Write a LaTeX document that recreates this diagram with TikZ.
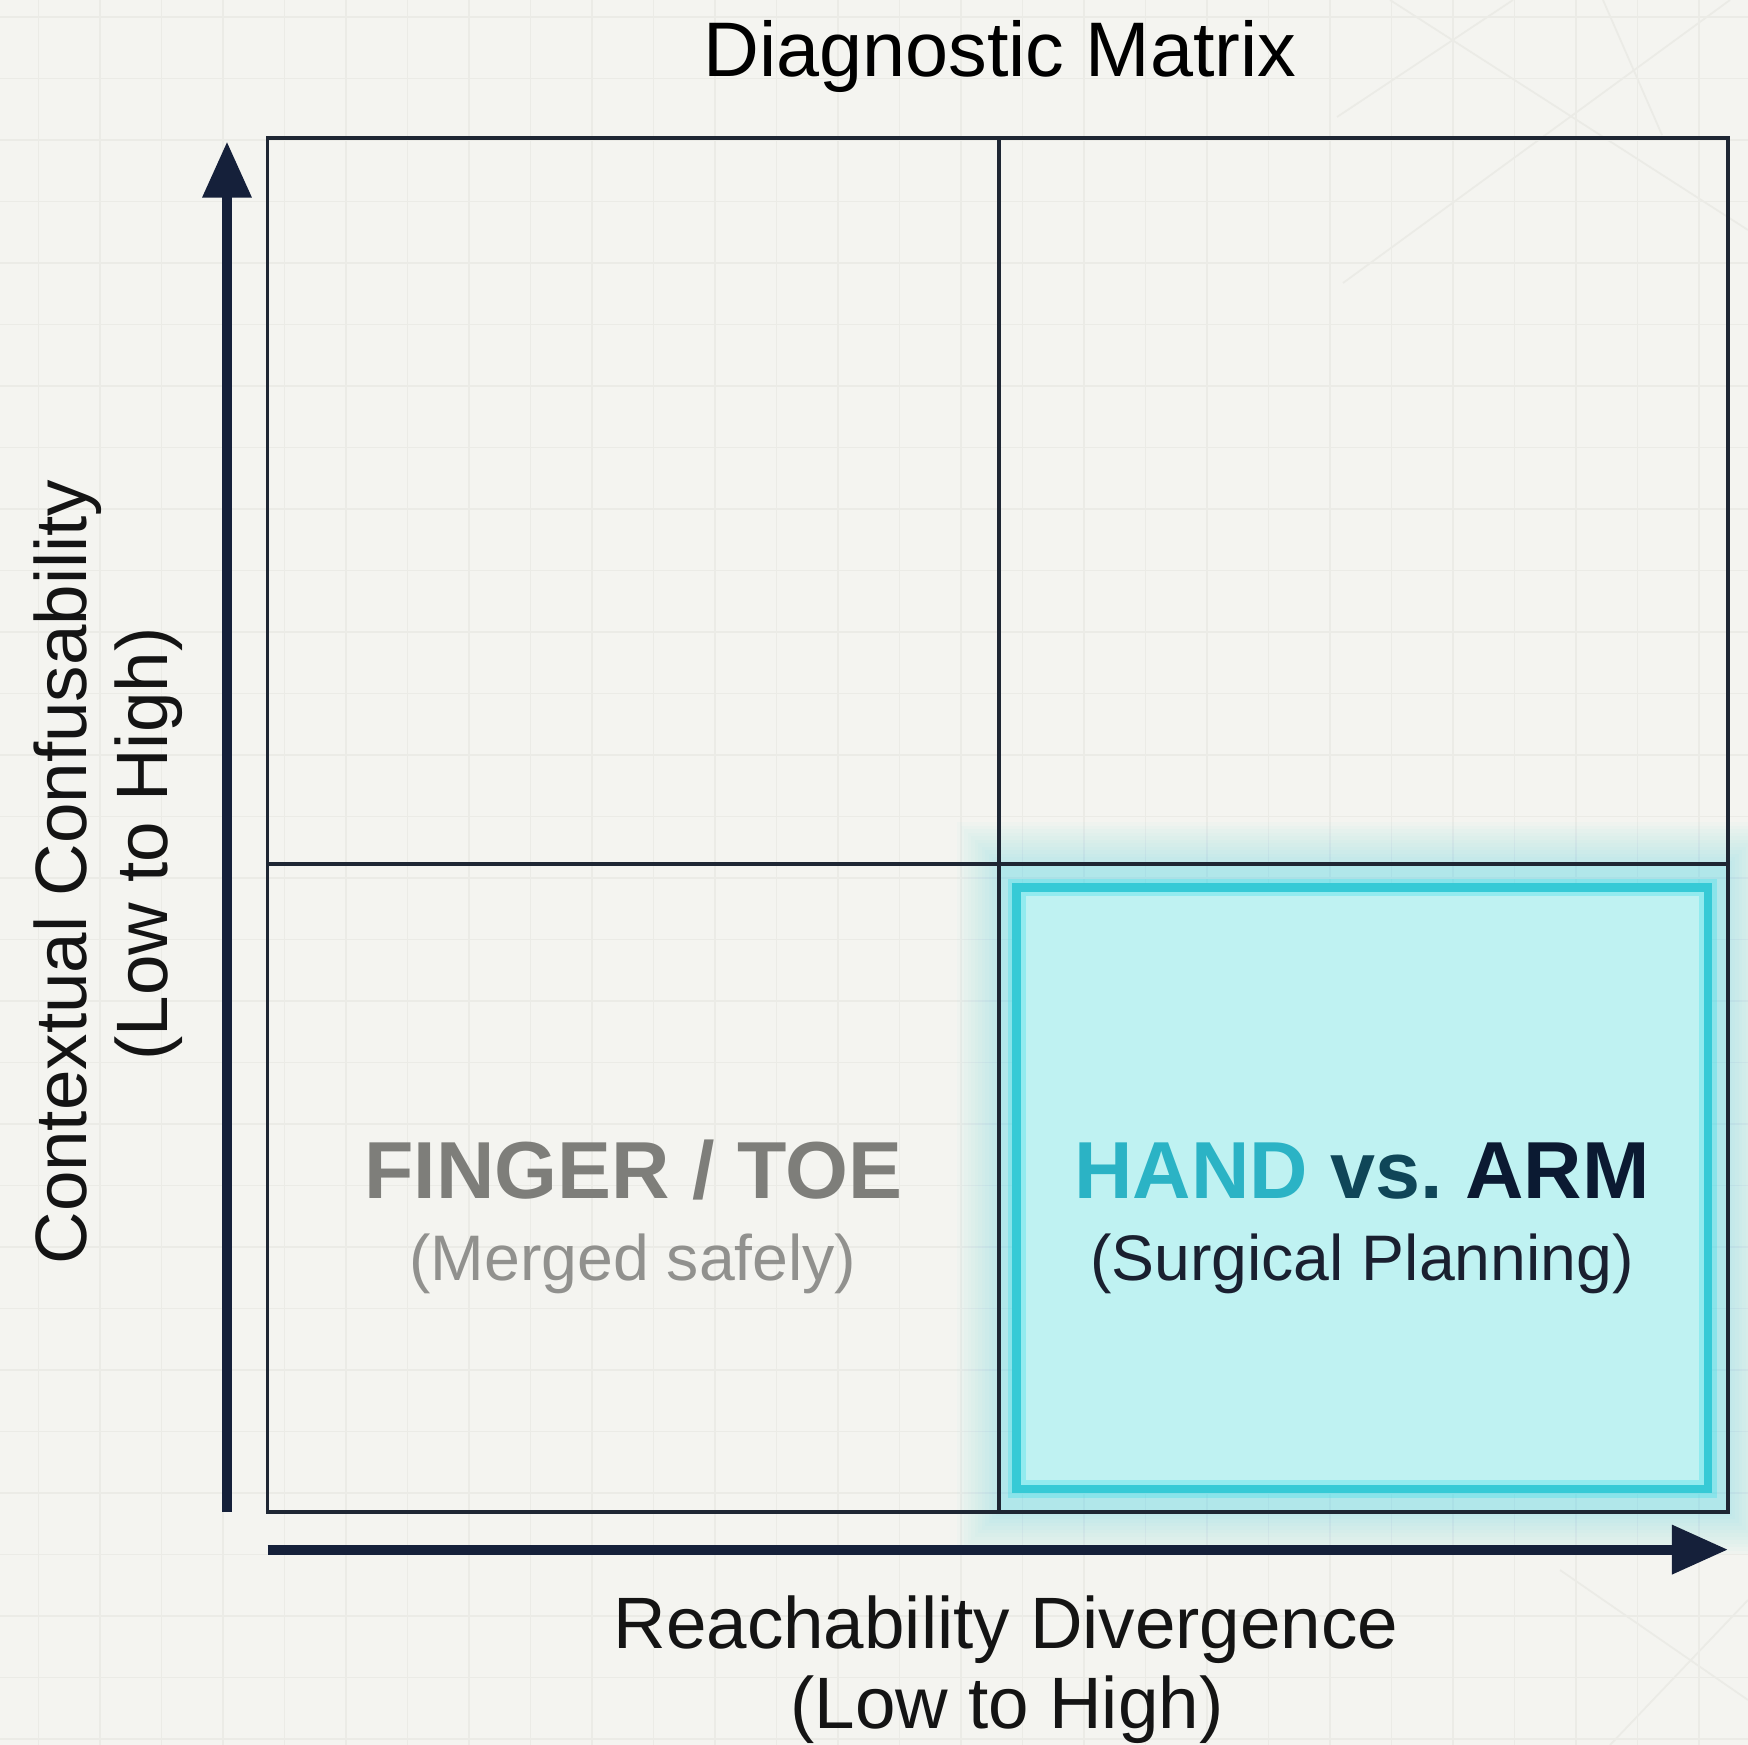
\documentclass[tikz,border=0pt]{standalone}
\usepackage{fontspec}
\setmainfont{Liberation Sans}
\usetikzlibrary{arrows.meta}
\definecolor{paper}{HTML}{F4F4F0}
\definecolor{gridline}{HTML}{EBEBE6}
\definecolor{navy}{HTML}{15203A}
\definecolor{frame}{HTML}{1E2633}
\definecolor{glow}{HTML}{3FE0EA}
\definecolor{cyanedge}{HTML}{36CAD6}
\definecolor{cellfill}{HTML}{BFF2F2}
\definecolor{handcol}{HTML}{2BB3C5}
\definecolor{vscol}{HTML}{0F4658}
\definecolor{armcol}{HTML}{0B1A32}
\definecolor{greytext}{HTML}{7E7E7A}
\definecolor{darktext}{HTML}{1A2030}

\begin{document}
\begin{tikzpicture}[x=0.01cm,y=-0.01cm,
  axislabel/.style={anchor=base, inner sep=0pt, text=black!92, font=\fontsize{20.7}{25}\selectfont},
  quadhead/.style={anchor=base, inner sep=0pt, font=\bfseries\fontsize{23}{27}\selectfont},
  quadsub/.style={anchor=base, inner sep=0pt, font=\fontsize{18.3}{22}\selectfont}]
\useasboundingbox (0,0) rectangle (1748,1745);
\fill [paper] (0,0) rectangle (1748,1745);
% faint background grid
\foreach \k in {0,...,28} {
  \draw [gridline, line width=0.45pt] (38.5+61.5*\k,0) -- (38.5+61.5*\k,1745);
  \draw [gridline, line width=0.45pt] (0,17+61.5*\k) -- (1748,17+61.5*\k);
}
\draw [gridline, line width=0.5pt] (1390,0) -- (1748,230);
\draw [gridline, line width=0.5pt] (1513,0) -- (1337,117);
\draw [gridline, line width=0.5pt] (1730,0) -- (1343,283);
\draw [gridline, line width=0.5pt] (1603,0) -- (1662,135);
\draw [gridline, line width=0.5pt] (1560,1570) -- (1748,1700);
\draw [gridline, line width=0.5pt] (1610,1745) -- (1748,1600);
% glow round the highlighted cell
\foreach \g in {1,...,12}
  \fill [glow, opacity=0.025] (999-3.5*\g,864-3.5*\g) rectangle (1728+3.5*\g,1512+3.5*\g);
\fill [glow, opacity=0.12] (999,864) rectangle (1728,1512);
\fill [cellfill] (1016.7,887.4) rectangle (1708,1489);
\draw [glow, opacity=0.35, line width=5pt] (1016.7,887.4) rectangle (1708,1489);
\draw [cyanedge, line width=2.5pt] (1016.7,887.4) rectangle (1708,1489);
% the matrix
\draw [frame, line width=1.1pt] (267.5,138) rectangle (1728,1512);
\draw [frame, line width=1.1pt] (999,138) -- (999,1512);
\draw [frame, line width=1.1pt] (267.5,864) -- (1728,864);
% axes
\draw [navy, line width=2.8pt, -{Triangle[length=0.56cm,width=0.47cm]}] (227,1512) -- (227,141.6);
\draw [navy, line width=2.8pt, -{Triangle[length=0.56cm,width=0.47cm]}] (267.5,1549.6) -- (1728,1549.6);
% texts
\node (title) at (1000,76) [anchor=base, inner sep=0pt, font=\fontsize{22}{26}\selectfont] {Diagnostic Matrix};
\node (xlab) at (1006,1648) [axislabel] {Reachability Divergence};
\node (xsub) at (1007,1728) [axislabel] {(Low to High)};
\node (ylab) at (87,872) [axislabel, rotate=90] {Contextual Confusability};
\node (ysub) at (167,844) [axislabel, rotate=90] {(Low to High)};
\node (finger) at (633,1198) [quadhead, text=greytext] {FINGER / TOE};
\node (merged) at (633,1280) [quadsub, text=greytext!85] {(Merged safely)};
\node (hand) at (1362,1198) [quadhead] {\textcolor{handcol}{HAND} \textcolor{vscol}{vs.}\ \textcolor{armcol}{ARM}};
\node (surgical) at (1362,1280) [quadsub, text=darktext] {(Surgical Planning)};
\end{tikzpicture}
\end{document}
